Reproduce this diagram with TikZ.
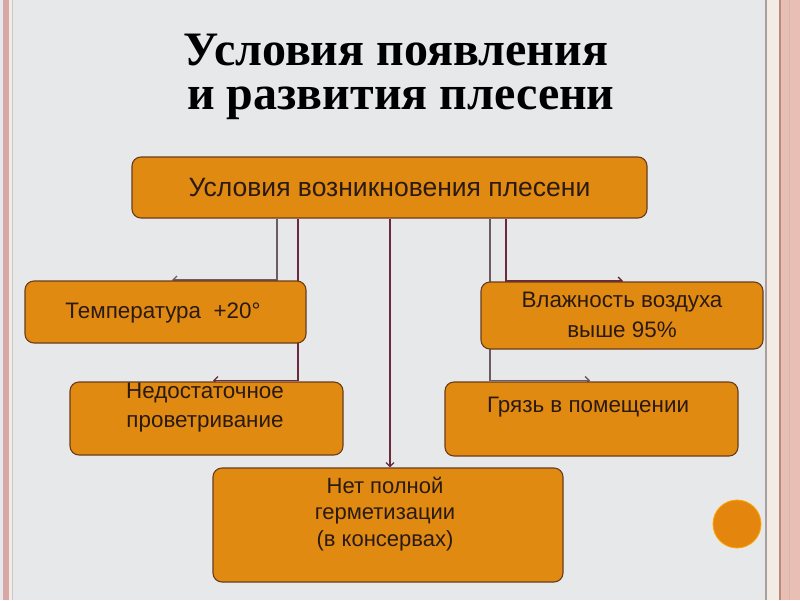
\documentclass[tikz,border=0pt]{standalone}
\usepackage{fontspec}
\setmainfont{Liberation Sans}
\newfontfamily\titlefont{Liberation Serif}
\usetikzlibrary{arrows.meta}
\definecolor{bg}{HTML}{E6E8EA}
\definecolor{boxfill}{HTML}{E08A12}
\definecolor{boxline}{HTML}{6A3C1C}
\definecolor{conn}{HTML}{6A2A3A}
\definecolor{conn2}{HTML}{6E5A62}
\definecolor{pinkA}{HTML}{D8A8A6}
\definecolor{creamA}{HTML}{F2ECE4}
\definecolor{pinkB}{HTML}{E8BFB2}
\definecolor{brownA}{HTML}{B88A7C}
\definecolor{grayA}{HTML}{A8A0A0}
\definecolor{circfill}{HTML}{E4860E}
\definecolor{txt}{HTML}{2A1A12}
\begin{document}
\begin{tikzpicture}[x=1pt,y=-1pt,
  box/.style={draw=boxline, fill=boxfill, line width=1.1pt, rounded corners=9pt, inner sep=0pt},
  boxtext/.style={text=txt, align=center, inner sep=0pt, font=\fontsize{22.4}{29}\selectfont},
  conline/.style={draw=conn, line width=1.3pt},
  conarrow/.style={conline, -{Straight Barb[length=4pt,width=8pt]}},
  titletext/.style={font=\titlefont\bfseries\fontsize{48}{52}\selectfont, inner sep=0pt}
]
\fill[bg] (0,0) rectangle (800,600);
\useasboundingbox (0,0) rectangle (800,600);
% side borders
\fill[pinkA] (3,0) rectangle (9,600);
\fill[creamA] (9,0) rectangle (12,600);
\fill[grayA!60] (12,0) rectangle (13,600);
\fill[grayA] (765,0) rectangle (767,600);
\fill[creamA] (767,0) rectangle (779,600);
\fill[brownA] (779,0) rectangle (781,600);
\fill[pinkB] (781,0) rectangle (800,600);
\fill[brownA!60] (789,0) rectangle (790,600);

% title
\node[titletext] (t1) at (396,50) {Условия появления};
\node[titletext] (t2) at (401,103) {и развития плесени};

% top box
\node[box, minimum width=515pt, minimum height=61pt, text=txt, font=\fontsize{26.5}{30}\selectfont] (top) at (389.5,187.5) {Условия возникновения плесени};

% connectors (drawn beneath the lower boxes)
\coordinate (a1) at (172,280);
\coordinate (a2) at (213,380.5);
\coordinate (a4) at (590,380.5);
\coordinate (a5) at (623,281);
\draw[conarrow, draw=conn2] (top.south -| 277,0) |- (a1);
\draw[conarrow] (top.south -| 298,0) |- (a2);
\draw[conarrow, draw=conn2] (top.south -| 490,0) |- (a4);
\draw[conarrow] (top.south -| 506,0) |- (a5);

% lower boxes
\node[box, minimum width=281pt, minimum height=62pt] (temp) at (165.5,312) {};
\node[box, minimum width=282pt, minimum height=67pt] (hum) at (622,315.5) {};
\node[box, minimum width=273pt, minimum height=73pt] (vent) at (206.5,418.5) {};
\node[box, minimum width=293pt, minimum height=74pt] (dirt) at (591.5,419) {};
\node[box, minimum width=350pt, minimum height=114pt] (seal) at (388,525) {};
\draw[conarrow] (top.south -| 390,0) -- (seal.north -| 390,0);
\fill[circfill, draw=orange!70!yellow, line width=0.8pt] (737,524) circle (24);

% box texts
\node[boxtext] (ttemp) at (163,313) {Температура\ \ +20°};
\node[boxtext, font=\fontsize{22.4}{30}\selectfont] (thum) at (622,315) {Влажность воздуха\\выше 95\%};
\node[boxtext] (tvent) at (205,407.5) {Недостаточное\\проветривание};
\node[boxtext] (tdirt) at (588,407) {Грязь в помещении};
\node[boxtext, font=\fontsize{22}{26.5}\selectfont] (tseal) at (385,514) {Нет полной\\герметизации\\(в консервах)};
\end{tikzpicture}
\end{document}
